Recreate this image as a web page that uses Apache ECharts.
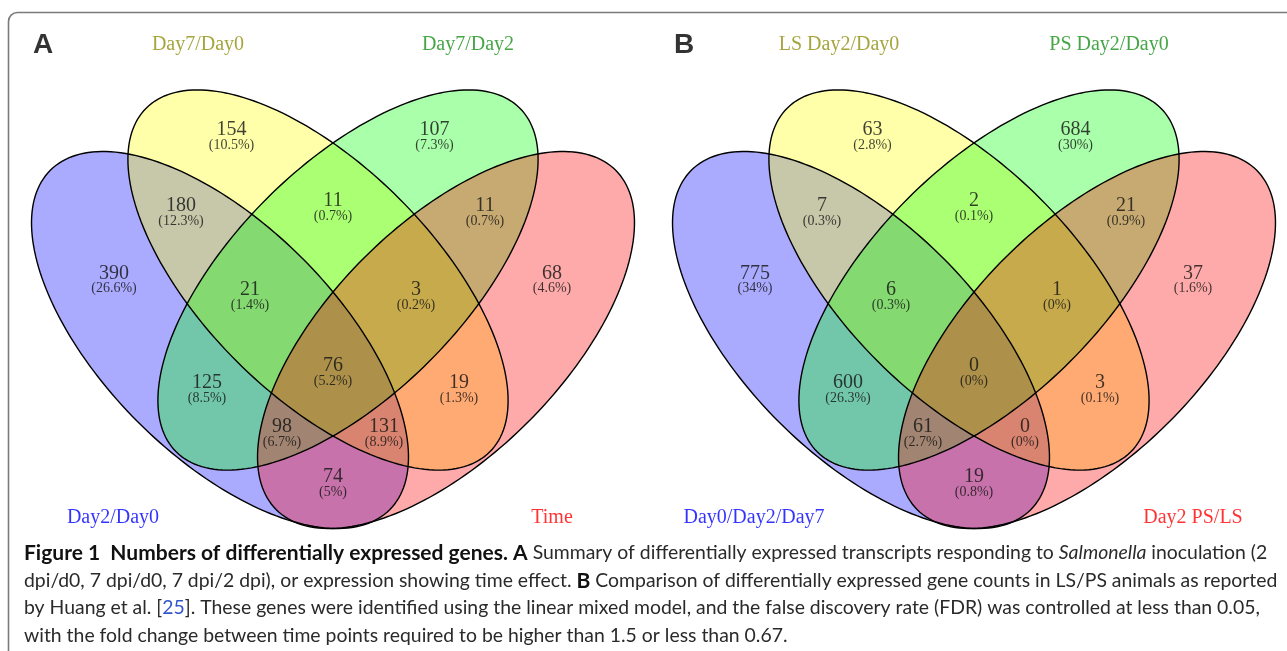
<!DOCTYPE html>
<html><head><meta charset="utf-8">
<script src="https://cdn.jsdelivr.net/npm/echarts@6/dist/echarts.min.js"></script>
<style>html,body{margin:0;padding:0;background:#fff;}#c{width:1287px;height:651px;}</style>
</head><body><div id="c"></div>
<script>
// ---------------- data ----------------
// region order: A, B, C, D, AB, AC, AD, BC, BD, CD, ABC, ABD, ACD, BCD, ABCD
const regionKeys = ['A','B','C','D','AB','AC','AD','BC','BD','CD','ABC','ABD','ACD','BCD','ABCD'];
const panelLetters = ['A','B'];
const setNamesA = ['Day2/Day0','Day7/Day0','Day7/Day2','Time'];
const countsA = [390,154,107,68,180,125,74,11,19,11,21,131,98,3,76];
const pctsA = [26.6,10.5,7.3,4.6,12.3,8.5,5,0.7,1.3,0.7,1.4,8.9,6.7,0.2,5.2];
const setNamesB = ['Day0/Day2/Day7','LS Day2/Day0','PS Day2/Day0','Day2 PS/LS'];
const countsB = [775,63,684,37,7,600,19,2,3,21,6,0,61,1,0];
const pctsB = [34,2.8,30,1.6,0.3,26.3,0.8,0.1,0.1,0.9,0.3,0,2.7,0,0];

// ---------------- layout (venn units, 1 unit = 100 px) ----------------
const PX = 100;
const PANEL_CENTER = [[333,280],[974,280]];
const PANEL_LEFT = [0,641];
const PANEL_RIGHT = [666,1287];
const ELLIPSES = [ // cx, cy, a, b, angle(deg, screen)
  [-1.13, 0.60, 2.40, 1.16, 45],
  [-0.15, 0.00, 2.43, 1.15, 45],
  [ 0.15, 0.00, 2.43, 1.15, -45],
  [ 1.13, 0.60, 2.40, 1.16, -45]
];
const FILLS = ['rgba(0,0,255,0.333)','rgba(255,255,0,0.333)','rgba(0,255,0,0.333)','rgba(255,0,0,0.333)'];
const REGION_POS = {
  A:[-2.19,-0.067], B:[-1.015,-1.50], C:[1.015,-1.50], D:[2.19,-0.067],
  AB:[-1.52,-0.74], AC:[-1.26,1.027], AD:[0,1.967], BC:[0,-0.79],
  BD:[1.26,1.027], CD:[1.52,-0.74], ABC:[-0.83,0.10], ABD:[0.51,1.467],
  ACD:[-0.51,1.467], BCD:[0.83,0.10], ABCD:[0,0.86]
};
const SET_POS = [[-2.20,2.38],[-1.35,-2.35],[1.35,-2.35],[2.19,2.375]];
const SET_COLORS = ['#0000ff','#8e8e0e','#189018','#ff0000'];
const LETTER_POS = [-2.90,-2.35];
const SERIF = '"Liberation Serif","Times New Roman",serif';

const panels = [
  {names:setNamesA, counts:countsA, pcts:pctsA},
  {names:setNamesB, counts:countsB, pcts:pctsB}
];

const grid = [], xAxis = [], yAxis = [], series = [];
function ellipsePts(api, e){
  const [cx,cy,a,b,deg] = e, t0 = deg*Math.PI/180, pts = [];
  for(let i=0;i<200;i++){
    const t = i/200*2*Math.PI;
    const x = cx + a*Math.cos(t)*Math.cos(t0) - b*Math.sin(t)*Math.sin(t0);
    const y = cy + a*Math.cos(t)*Math.sin(t0) + b*Math.sin(t)*Math.cos(t0);
    pts.push(api.coord([x,y]));
  }
  return pts;
}
panels.forEach((p, k) => {
  const [cxp, cyp] = PANEL_CENTER[k];
  grid.push({left:PANEL_LEFT[k], top:0, width:PANEL_RIGHT[k]-PANEL_LEFT[k], height:651});
  xAxis.push({type:'value', gridIndex:k, show:false, min:(PANEL_LEFT[k]-cxp)/PX, max:(PANEL_RIGHT[k]-cxp)/PX});
  yAxis.push({type:'value', gridIndex:k, show:false, inverse:true, min:-cyp/PX, max:(651-cyp)/PX});
  series.push({
    type:'custom', xAxisIndex:k, yAxisIndex:k, z:1, silent:true,
    data: ELLIPSES.map((e,i)=>[e[0],e[1],i]),
    renderItem:(params, api)=>{
      const i = api.value(2);
      return {type:'polygon', shape:{points:ellipsePts(api, ELLIPSES[i])}, style:{fill:FILLS[i], stroke:'none'}};
    }
  });
  series.push({
    type:'custom', xAxisIndex:k, yAxisIndex:k, z:2, silent:true,
    data: ELLIPSES.map((e,i)=>[e[0],e[1],i]),
    renderItem:(params, api)=>{
      const i = api.value(2);
      return {type:'polygon', shape:{points:ellipsePts(api, ELLIPSES[i])}, style:{fill:'none', stroke:'#000', lineWidth:1.4}};
    }
  });
  series.push({
    type:'scatter', xAxisIndex:k, yAxisIndex:k, z:3, silent:true, symbolSize:0,
    data: regionKeys.map((key,i)=>[REGION_POS[key][0], REGION_POS[key][1]+0.07, p.counts[i], p.pcts[i]]),
    label:{show:true, position:'inside',
      formatter:(q)=>'{n|'+q.value[2]+'}\n{p|('+q.value[3]+'%)}',
      rich:{
        n:{fontFamily:SERIF, fontSize:20, lineHeight:17, color:'#111', align:'center'},
        p:{fontFamily:SERIF, fontSize:14, lineHeight:14, color:'#111', align:'center'}
      }}
  });
  const setData = p.names.map((nm,i)=>({value:[SET_POS[i][0],SET_POS[i][1]], name:nm,
      label:{color:SET_COLORS[i]}}));
  setData.push({value:LETTER_POS, name:panelLetters[k],
      label:{color:'#000', fontFamily:'"Liberation Sans",Arial,sans-serif', fontWeight:'bold', fontSize:28}});
  series.push({
    type:'scatter', xAxisIndex:k, yAxisIndex:k, z:3, silent:true, symbolSize:0,
    data:setData,
    label:{show:true, position:'inside', formatter:'{b}', fontFamily:SERIF, fontSize:20}
  });
});

const CAP = '"Lato","Noto Sans",sans-serif';
const capRich = {
  b:{fontFamily:CAP, fontSize:21, fontWeight:'bold', fill:'#111'},
  r:{fontFamily:CAP, fontSize:19.4, fill:'#2a2a2a'},
  i:{fontFamily:CAP, fontSize:19.4, fontStyle:'italic', fill:'#2a2a2a'},
  l:{fontFamily:CAP, fontSize:19.4, fill:'#3355cc'}
};
const capLines = [
  '{b|Figure 1  Numbers of differentially expressed genes. A}{r| Summary of differentially expressed transcripts responding to }{i|Salmonella}{r| inoculation (2}',
  '{r|dpi/d0, 7 dpi/d0, 7 dpi/2 dpi), or expression showing time effect. }{b|B}{r| Comparison of differentially expressed gene counts in LS/PS animals as reported}',
  '{r|by Huang et al. [}{l|25}{r|]. These genes were identified using the linear mixed model, and the false discovery rate (FDR) was controlled at less than 0.05,}',
  '{r|with the fold change between time points required to be higher than 1.5 or less than 0.67.}'
];
const capY = [553,581,608,636];
const graphic = [{type:'rect', silent:true, z:0,
  shape:{x:8.5,y:12.5,width:1300,height:660,r:[9,0,0,0]},
  style:{fill:'none', stroke:'#7a7a7a', lineWidth:1.6}}];
capLines.forEach((t,i)=>graphic.push({type:'text', silent:true, x:24, y:capY[i],
  style:{text:t, rich:capRich, verticalAlign:'middle', align:'left'}}));

const chart = echarts.init(document.getElementById('c'));
chart.setOption({animation:false, grid, xAxis, yAxis, series, graphic});
</script></body></html>
